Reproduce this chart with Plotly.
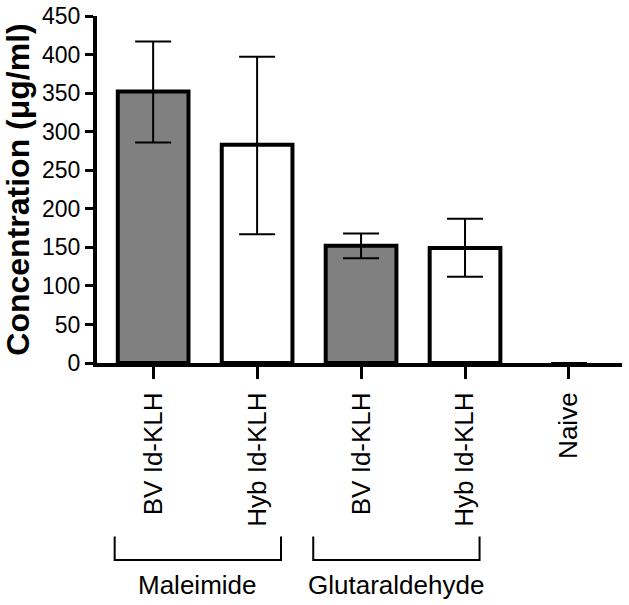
import plotly.graph_objects as go

# Data
categories = ["BV Id-KLH", "Hyb Id-KLH", "BV Id-KLH", "Hyb Id-KLH", "Naive"]
means = [352, 283, 152, 149, 0]
err_plus = [65, 114, 16, 38, 0]
err_minus = [66, 116, 16, 37, 0]
fill_colors = ["#808080", "white", "#808080", "white", "white"]
outline_widths = [4, 4, 4, 4, 0]

groups = ["Maleimide", "Glutaraldehyde"]
group_spans = [(-0.37, 1.23), (1.54, 3.14)]

fig = go.Figure()

fig.add_trace(go.Bar(
    x=list(range(len(categories))),
    y=means,
    width=0.68,
    marker=dict(color=fill_colors, line=dict(color="black", width=outline_widths)),
    error_y=dict(
        type="data",
        array=err_plus,
        arrayminus=err_minus,
        symmetric=False,
        color="black",
        thickness=2,
        width=18,
    ),
    showlegend=False,
))

# Group brackets under the category labels
for name, (x0, x1) in zip(groups, group_spans):
    fig.add_shape(
        type="path",
        xref="x", yref="paper",
        path=f"M {x0},-0.50 L {x0},-0.568 L {x1},-0.568 L {x1},-0.50",
        line=dict(color="black", width=2),
    )
    fig.add_annotation(
        x=(x0 + x1) / 2, y=-0.64,
        xref="x", yref="paper",
        text=name, showarrow=False,
        font=dict(size=26, color="black"),
        yanchor="middle",
    )

fig.update_layout(
    width=629,
    height=605,
    margin=dict(l=97, r=7, t=16, b=242),
    plot_bgcolor="white",
    paper_bgcolor="white",
    font=dict(family="Liberation Sans, Arial, sans-serif", color="black"),
    xaxis=dict(
        range=[-0.54, 4.51],
        tickmode="array",
        tickvals=list(range(len(categories))),
        ticktext=categories,
        tickangle=-90,
        tickfont=dict(size=26),
        ticks="outside",
        ticklen=12,
        tickwidth=3,
        tickcolor="black",
        ticklabelstandoff=3,
        showline=True,
        linewidth=4,
        linecolor="black",
        showgrid=False,
        zeroline=False,
        automargin=False,
    ),
    yaxis=dict(
        range=[0, 450],
        tickvals=list(range(0, 451, 50)),
        tickfont=dict(size=23),
        ticks="outside",
        ticklen=8,
        tickwidth=3,
        tickcolor="black",
        showline=True,
        linewidth=4,
        linecolor="black",
        showgrid=False,
        zeroline=False,
        automargin=False,
        title=dict(
            text="<b>Concentration (\u03bcg/ml)</b>",
            font=dict(size=32),
            standoff=4,
        ),
    ),
)

# drop the default 8px page margin so the figure fills the window
fig.write_html(
    "out.html",
    config={"displayModeBar": False},
    post_script="document.body.style.margin='0';",
)
